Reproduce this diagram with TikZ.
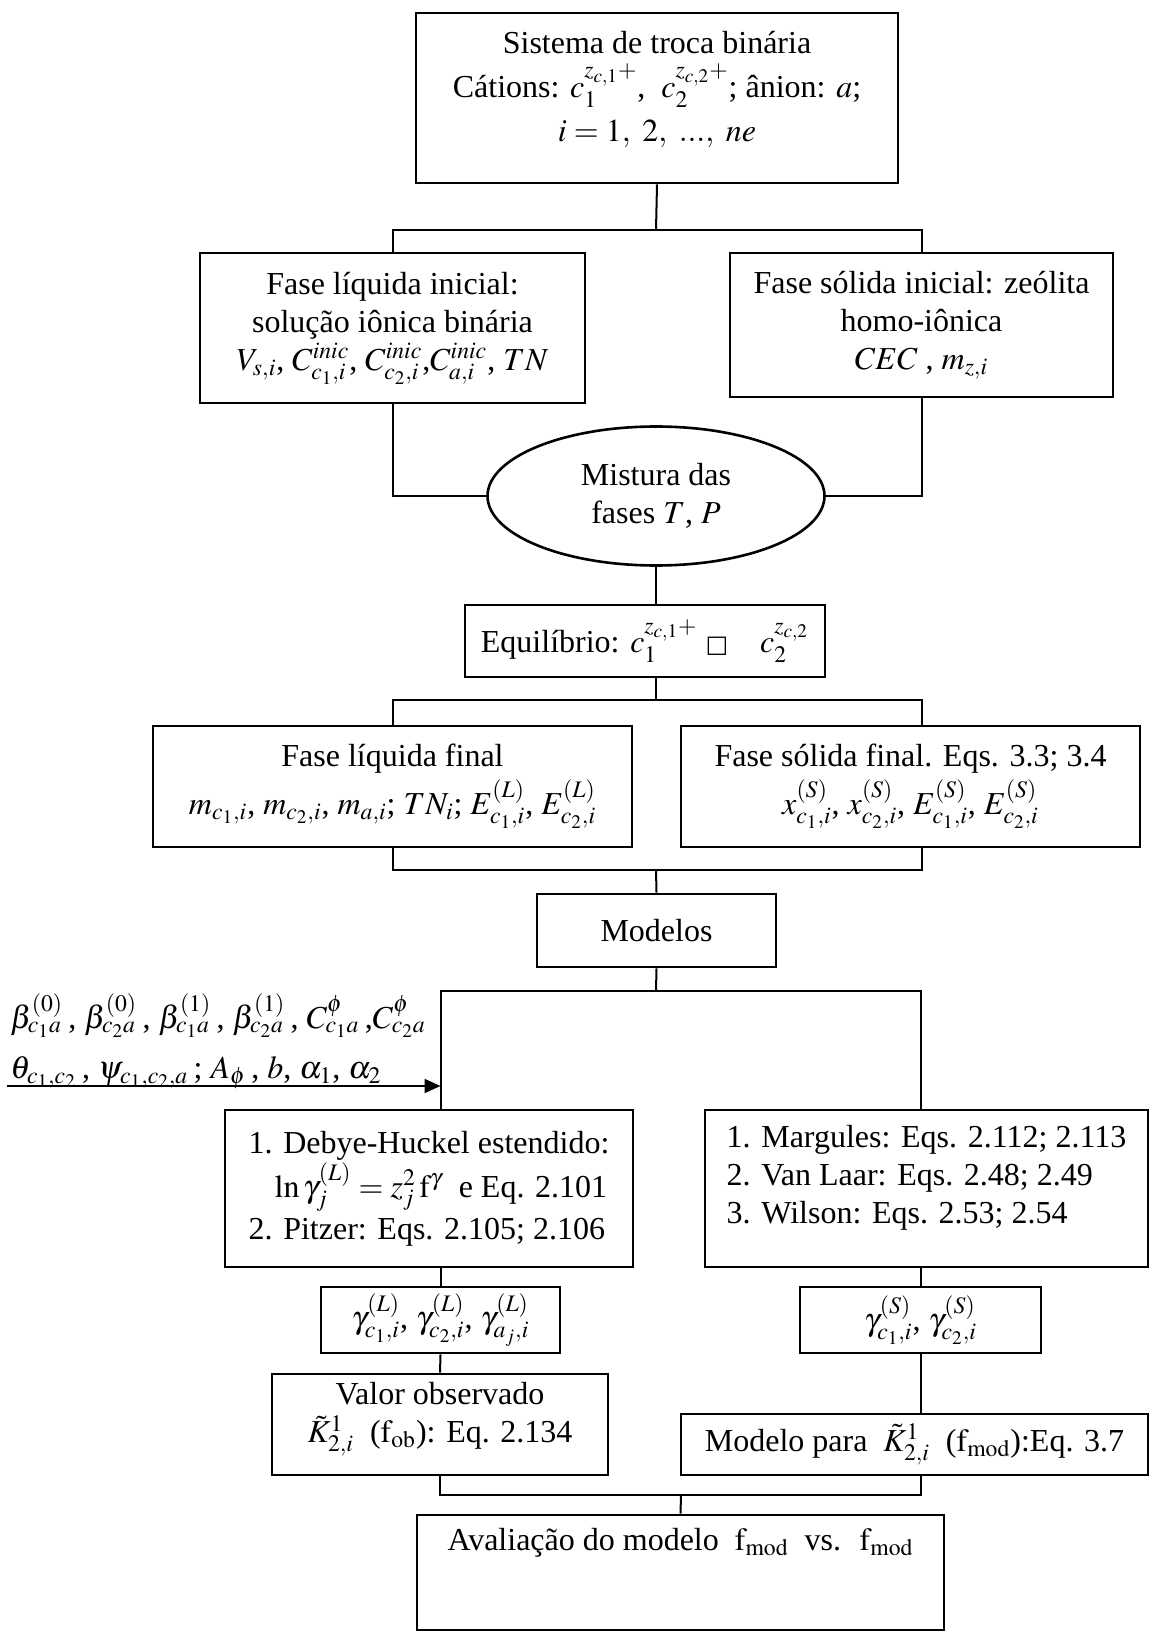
\documentclass[tikz,border=0pt]{standalone}
\usepackage{mathptmx}
\usepackage{fontspec}
\setmainfont{Liberation Serif}
\newfontfamily\symbfont{DejaVu Sans}
\usetikzlibrary{shapes.geometric,arrows.meta}
\begin{document}
\begin{tikzpicture}[x=0.5pt,y=-0.5pt,
    font=\fontsize{16}{19}\selectfont,
    caixa/.style={draw,line width=1.3pt,align=center,inner sep=0pt},
    liga/.style={line width=1pt}]
    \useasboundingbox (0,0) rectangle (1150,1641);
    \node[caixa,minimum width=241pt,minimum height=85pt,text depth=12pt] (sistema) at (657,98)
        {Sistema de troca binária\\[3pt]
         Cátions: $c_1^{z_{c,1}+}$, \ $c_2^{z_{c,2}+}$; ânion: $a$;\\[3pt]
         $i=1,\ 2,\ ...,\ ne$};
    \node[caixa,minimum width=192.5pt,minimum height=75pt] (liqini) at (392.5,328)
        {Fase líquida inicial:\\ solução iônica binária\\
         $V_{s,i}$, $C_{c_1,i}^{inic}$, $C_{c_2,i}^{inic}$,$C_{a,i}^{inic}$, $TN$};
    \node[caixa,minimum width=191.5pt,minimum height=72pt] (solini) at (921.5,325)
        {Fase sólida inicial: zeólita\\ homo-iônica\\ $CEC$ , $m_{z,i}$};
    \node[caixa,ellipse,minimum width=168.5pt,minimum height=69.5pt] (mistura) at (656,496)
        {Mistura das\\ fases $T$, $P$};
    \node[caixa,minimum width=180pt,minimum height=36pt] (equil) at (645,641)
        {Equilíbrio: $c_1^{z_{c,1}+}$ {\symbfont\fontsize{12}{12}\selectfont □}\quad $c_2^{z_{c,2}}$};
    \node[caixa,minimum width=239.5pt,minimum height=60.5pt] (liqfin) at (392.5,786.5)
        {Fase líquida final\\[2pt]
         $m_{c_1,i}$, $m_{c_2,i}$, $m_{a,i}$; $TN_i$; $E^{(L)}_{c_1,i}$, $E^{(L)}_{c_2,i}$};
    \node[caixa,minimum width=229.5pt,minimum height=60.5pt] (solfin) at (910.5,786.5)
        {Fase sólida final. Eqs. 3.3; 3.4\\[2pt]
         $x^{(S)}_{c_1,i}$, $x^{(S)}_{c_2,i}$, $E^{(S)}_{c_1,i}$, $E^{(S)}_{c_2,i}$};
    \node[caixa,minimum width=119.5pt,minimum height=36.5pt] (modelos) at (656.5,930.5) {Modelos};
    \node[anchor=west,align=left,inner sep=0pt] (param) at (10,1041)
        {$\beta^{(0)}_{c_1a}$\,, $\beta^{(0)}_{c_2a}$\,, $\beta^{(1)}_{c_1a}$\,, $\beta^{(1)}_{c_2a}$\,, $C^{\phi}_{c_1a}$\,,$C^{\phi}_{c_2a}$\\[6pt]
         $\theta_{c_1,c_2}$\,, $\psi_{c_1,c_2,a}$\,; $A_\phi$\,, $b$, $\alpha_1$, $\alpha_2$};
    \node[caixa,align=left,minimum width=204pt,minimum height=78.5pt] (leftmod) at (429,1188.5)
        {1. Debye-Huckel estendido:\\
         \hspace*{13pt}$\ln\gamma_j^{(L)}=z_j^2\,\mathrm{f}^{\gamma}$ \ e Eq. 2.101\\[2pt]
         2. Pitzer: Eqs. 2.105; 2.106};
    \node[caixa,align=left,minimum width=221.5pt,minimum height=78.5pt,text depth=14pt] (rightmod) at (926.5,1188.5)
        {1. Margules: Eqs. 2.112; 2.113\\ 2. Van Laar: Eqs. 2.48; 2.49\\ 3. Wilson: Eqs. 2.53; 2.54};
    \node[caixa,minimum width=119.5pt,minimum height=33pt] (gammaL) at (440.5,1320)
        {$\gamma^{(L)}_{c_1,i}$, $\gamma^{(L)}_{c_2,i}$, $\gamma^{(L)}_{a_j,i}$};
    \node[caixa,minimum width=168pt,minimum height=50.5pt,text depth=12pt] (valor) at (440,1424.5)
        {Valor observado\\ $\tilde{K}^1_{2,i}$ \ ($\mathrm{f}_{\mathrm{ob}}$): Eq. 2.134};
    \node[caixa,minimum width=120.5pt,minimum height=33pt] (gammaS) at (920.5,1320)
        {$\gamma^{(S)}_{c_1,i}$, $\gamma^{(S)}_{c_2,i}$};
    \node[caixa,minimum width=233.5pt,minimum height=30.5pt] (modpara) at (914.5,1444.5)
        {Modelo para \ $\tilde{K}^1_{2,i}$ \ ($\mathrm{f}_{\mathrm{mod}}$):Eq. 3.7};
    \node[caixa,minimum width=263.5pt,minimum height=57.5pt,text depth=33pt] (aval) at (680.5,1572.5)
        {Avaliação do modelo \ $\mathrm{f}_{\mathrm{mod}}$ \ vs. \ $\mathrm{f}_{\mathrm{mod}}$};
    \coordinate (s1) at (656,230);
    \coordinate (s2) at (656,700);
    \coordinate (j1) at (656,870);
    \coordinate (s3) at (656,991);
    \coordinate (j2) at (681,1495);
    \coordinate (seta) at (7,1086);
    \draw[liga] (sistema.south) -- (s1);
    \draw[liga] (liqini.north) |- (s1) -| (solini.north);
    \draw[liga] (liqini.south) |- (mistura.west);
    \draw[liga] (solini.south) |- (mistura.east);
    \draw[liga] (mistura.south) -- (mistura.south |- equil.north);
    \draw[liga] (mistura.south |- equil.south) -- (s2);
    \draw[liga] (liqfin.north) |- (s2) -| (solfin.north -| solini.south);
    \draw[liga] (liqfin.south) |- (j1) -| (solfin.south -| solini.south);
    \draw[liga] (j1) -- (modelos.north);
    \draw[liga] (modelos.south) -- (s3);
    \draw[liga] (leftmod.north -| gammaL.north) |- (s3) -| (rightmod.north -| gammaS.north);
    \draw[liga,-{Triangle[length=8pt,width=7pt]}] (seta) -- (seta -| gammaL.north);
    \draw[liga] (leftmod.south -| gammaL.north) -- (gammaL.north);
    \draw[liga] (gammaL.south) -- (valor.north);
    \draw[liga] (rightmod.south -| gammaS.north) -- (gammaS.north);
    \draw[liga] (gammaS.south) -- (gammaS.south |- modpara.north);
    \draw[liga] (valor.south) |- (j2) -| (gammaS.south |- modpara.south);
    \draw[liga] (j2) -- (aval.north);
\end{tikzpicture}
\end{document}
